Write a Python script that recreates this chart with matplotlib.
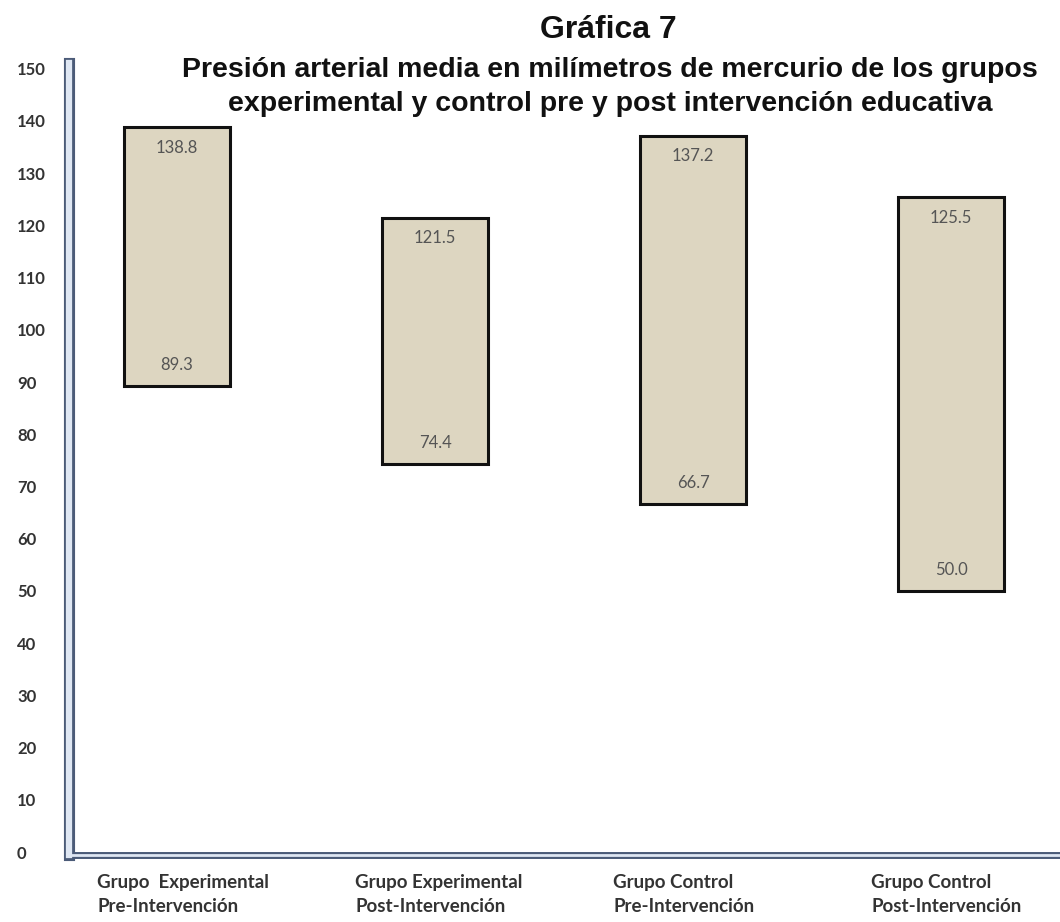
import numpy as np
import matplotlib
matplotlib.use("Agg")
import matplotlib.pyplot as plt
import matplotlib.transforms as mtransforms

# datos de la grafica
grupos = ["Grupo  Experimental\nPre-Intervención",
          "Grupo Experimental\nPost-Intervención",
          "Grupo Control\nPre-Intervención",
          "Grupo Control\nPost-Intervención"]
pam_max = [138.8, 121.5, 137.2, 125.5]
pam_min = [89.3, 74.4, 66.7, 50.0]
ticks_y = list(range(0, 151, 10))

W, H = 1060, 922
fig = plt.figure(figsize=(W / 100, H / 100), dpi=100)
fig.patch.set_facecolor("white")

# ejes en pixeles: izquierda 69, abajo 855, arriba 63
ax = fig.add_axes([69 / W, (H - 855) / H, 1 - 69 / W, (855 - 63) / H])
ax.set_facecolor("white")

x = np.arange(len(grupos))
alturas = np.array(pam_max) - np.array(pam_min)
ax.bar(x, alturas, bottom=pam_min, width=0.41, color="#ddd6c1",
       edgecolor="#111111", linewidth=2.2, zorder=3)

for xi, hi, lo in zip(x, pam_max, pam_min):
    ax.annotate(f"{hi:.1f}", (xi, hi), xytext=(0, -15), textcoords="offset points",
                ha="center", va="center", fontsize=12, color="#555555",
                family="Lato", zorder=4)
    ax.annotate(f"{lo:.1f}", (xi, lo), xytext=(0, 15), textcoords="offset points",
                ha="center", va="center", fontsize=12, color="#555555",
                family="Lato", zorder=4)

ax.set_xlim(-0.419, 3.422)
ax.set_ylim(-0.57, 151.1)

# eje y con etiquetas alineadas a la izquierda
ax.set_yticks(ticks_y)
ax.set_yticklabels([str(t) for t in ticks_y], fontsize=12, fontweight="bold",
                   color="#333333", family="Lato")
ax.tick_params(axis="y", length=0, pad=37.4)
for lab in ax.get_yticklabels():
    lab.set_horizontalalignment("left")
ax.set_xticks([])

# ejes con doble linea
for s in ["top", "right"]:
    ax.spines[s].set_visible(False)
ax.spines["left"].set_color("#4b5b78")
ax.spines["left"].set_linewidth(8)
ax.spines["bottom"].set_color("#4b5b78")
ax.spines["bottom"].set_linewidth(5)
ax.axvline(ax.get_xlim()[0], color="#dfe7f3", lw=4.5, clip_on=False, zorder=5)
ax.axhline(ax.get_ylim()[0], color="#dfe7f3", lw=2, clip_on=False, zorder=5)

# etiquetas de categorias
trans = mtransforms.blended_transform_factory(ax.transData, fig.transFigure)
for xi, g in zip(x, grupos):
    ax.text(xi - 0.31, (H - 874) / H, g, transform=trans, ha="left", va="top",
            fontsize=13.5, fontweight="bold", color="#333333", family="Lato",
            linespacing=1.5)

# titulos
fig.text(608 / W, 1 - 30 / H, "Gráfica 7", ha="center", va="center",
         fontsize=23, fontweight="bold", family="Liberation Sans", color="#111111")
fig.text(610 / W, 1 - 70 / H, "Presión arterial media en milímetros de mercurio de los grupos",
         ha="center", va="center", fontsize=20.5, fontweight="bold",
         family="Liberation Sans", color="#111111")
fig.text(610 / W, 1 - 104 / H, "experimental y control pre y post intervención educativa",
         ha="center", va="center", fontsize=20.5, fontweight="bold",
         family="Liberation Sans", color="#111111")

fig.savefig("out.png", dpi=100, facecolor="white")
